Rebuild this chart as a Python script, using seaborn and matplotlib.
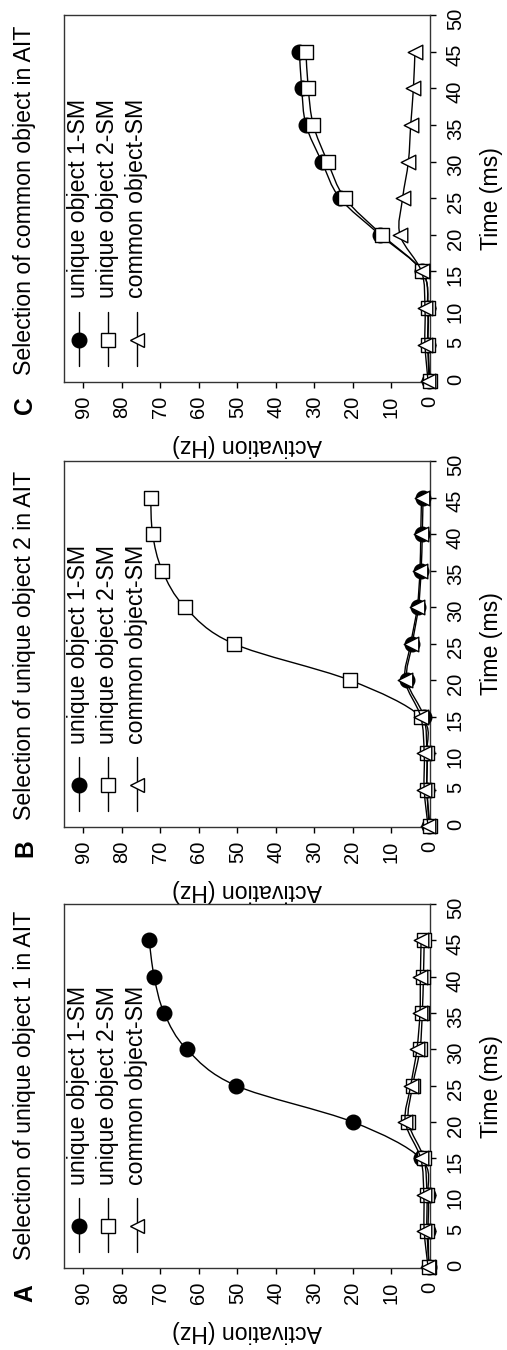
import numpy as np
import pandas as pd
import matplotlib
matplotlib.use("Agg")
import matplotlib.pyplot as plt
from matplotlib.path import Path
from matplotlib.patches import PathPatch
from matplotlib.lines import Line2D
import seaborn as sns

# ---- data -------------------------------------------------------------
time_ms = [0, 5, 10, 15, 20, 25, 30, 35, 40, 45]
series_names = ["unique object 1-SM", "unique object 2-SM", "common object-SM"]
panel_letters = ["A", "B", "C"]
panel_titles = [
    "Selection of unique object 1 in AIT",
    "Selection of unique object 2 in AIT",
    "Selection of common object in AIT",
]

# activation (Hz) per time step
a_unique1 = [0.3, 0.5, 0.5, 2.4, 20.0, 50.3, 63.1, 69.0, 71.6, 72.9]
a_unique2 = [0.2, 0.8, 0.8, 1.6, 5.6, 4.5, 2.6, 2.0, 1.7, 1.5]
a_common = [0.5, 1.5, 1.6, 2.4, 6.4, 5.0, 3.4, 2.6, 2.5, 2.3]

b_unique1 = [0.2, 0.8, 0.8, 1.6, 6.0, 4.6, 3.0, 2.3, 2.0, 1.8]
b_unique2 = [0.0, 0.8, 0.8, 2.4, 20.8, 51.0, 63.6, 69.5, 72.0, 72.5]
b_common = [0.5, 1.5, 1.5, 2.4, 6.5, 5.0, 3.3, 2.6, 2.4, 2.2]

c_unique1 = [0.2, 0.6, 0.6, 2.0, 13.0, 23.4, 28.1, 32.2, 33.3, 33.9]
c_unique2 = [0.0, 0.5, 0.5, 2.0, 12.5, 22.1, 26.6, 30.3, 31.6, 32.2]
c_common = [0.5, 1.3, 1.3, 2.2, 7.8, 7.1, 5.6, 5.0, 4.3, 3.9]

activation_ticks = [0, 10, 20, 30, 40, 50, 60, 70, 80, 90]
time_ticks = [0, 5, 10, 15, 20, 25, 30, 35, 40, 45, 50]

panel_values = [
    [a_unique1, a_unique2, a_common],
    [b_unique1, b_unique2, b_common],
    [c_unique1, c_unique2, c_common],
]

# ---- style ------------------------------------------------------------
sns.set_style("white")
plt.rcParams["font.family"] = ["Liberation Sans", "DejaVu Sans"]
plt.rcParams["text.color"] = "black"
plt.rcParams["axes.labelcolor"] = "black"
FS = 16.7      # titles, legend, axis labels
TICK_FS = 14.5 # tick labels
MS = 10.5

marker_styles = [
    dict(marker="o", face="black"),
    dict(marker="s", face="white"),
    dict(marker="<", face="white"),
]

# axes rectangles in figure fractions: [left, bottom, width, height]
panel_rects = [
    [0.1262, 0.0607, 0.7219, 0.2696],
    [0.1262, 0.3874, 0.7219, 0.2711],
    [0.1262, 0.7170, 0.7219, 0.2719],
]
letter_y = [-0.069, -0.057, -0.063]
title_y = [0.022, 0.019, 0.019]


def smooth_curve(x, y):
    """Cubic Bezier path through the points (Catmull-Rom tangents)."""
    pts = np.column_stack([x, y]).astype(float)
    n = len(pts)
    verts = [pts[0]]
    codes = [Path.MOVETO]
    for i in range(n - 1):
        p0 = pts[i - 1] if i > 0 else pts[i]
        p1 = pts[i]
        p2 = pts[i + 1]
        p3 = pts[i + 2] if i + 2 < n else pts[i + 1]
        c1 = p1 + (p2 - p0) / 6.0
        c2 = p2 - (p3 - p1) / 6.0
        verts += [c1, c2, p2]
        codes += [Path.CURVE4] * 3
    return Path(verts, codes)


fig = plt.figure(figsize=(5.07, 13.5), dpi=100)

for p, rect in enumerate(panel_rects):
    ax = fig.add_axes(rect)
    for k, (name, vals) in enumerate(zip(series_names, panel_values[p])):
        st = marker_styles[k]
        df = pd.DataFrame({"activation": vals, "time": time_ms})
        ax.add_patch(PathPatch(smooth_curve(df["activation"], df["time"]),
                               fill=False, edgecolor="black", linewidth=1.0,
                               zorder=2 + 2 * k, clip_on=False))
        sns.scatterplot(data=df, x="activation", y="time", ax=ax,
                        marker=st["marker"], s=MS ** 2, color=st["face"],
                        edgecolor="black", linewidth=1.0, legend=False,
                        zorder=3 + 2 * k, clip_on=False)

    ax.set_xlim(95, 0)
    ax.set_ylim(-0.1, 50)
    ax.set_xticks(activation_ticks)
    ax.set_yticks(time_ticks)
    ax.yaxis.tick_right()
    ax.yaxis.set_label_position("right")
    ax.tick_params(axis="x", bottom=True, top=False, direction="out",
                   length=4, width=1, pad=6, labelsize=TICK_FS,
                   labelrotation=90, colors="black")
    ax.tick_params(axis="y", right=True, left=False, direction="out",
                   length=4, width=1, pad=7.5, labelsize=TICK_FS,
                   labelrotation=90, colors="black")
    ax.set_xlabel("Activation (Hz)", rotation=180, fontsize=FS, labelpad=11)
    ax.set_ylabel("Time (ms)", rotation=90, fontsize=FS, labelpad=11)
    for sp in ax.spines.values():
        sp.set_color("#333333")
        sp.set_linewidth(1.0)

    # legend drawn along the left side of the plot area
    leg_x = [0.041, 0.120, 0.199]
    for k, name in enumerate(series_names):
        st = marker_styles[k]
        ax.add_line(Line2D([leg_x[k], leg_x[k]], [0.044, 0.192],
                           transform=ax.transAxes, color="black", lw=1.0))
        ax.add_line(Line2D([leg_x[k]], [0.115], transform=ax.transAxes,
                           marker=st["marker"], markersize=MS,
                           markerfacecolor=st["face"], markeredgecolor="black",
                           markeredgewidth=1.0, linestyle="none"))
        ax.text(leg_x[k], 0.228, name, transform=ax.transAxes, rotation=90,
                ha="center", va="bottom", fontsize=FS)

    ax.text(-0.1066, title_y[p], panel_titles[p], transform=ax.transAxes,
            rotation=90, ha="center", va="bottom", fontsize=FS)
    ax.text(-0.1066, letter_y[p], panel_letters[p], transform=ax.transAxes,
            rotation=90, ha="center", va="center", fontsize=FS + 1,
            fontweight="bold")

fig.savefig("out.png", dpi=100)
